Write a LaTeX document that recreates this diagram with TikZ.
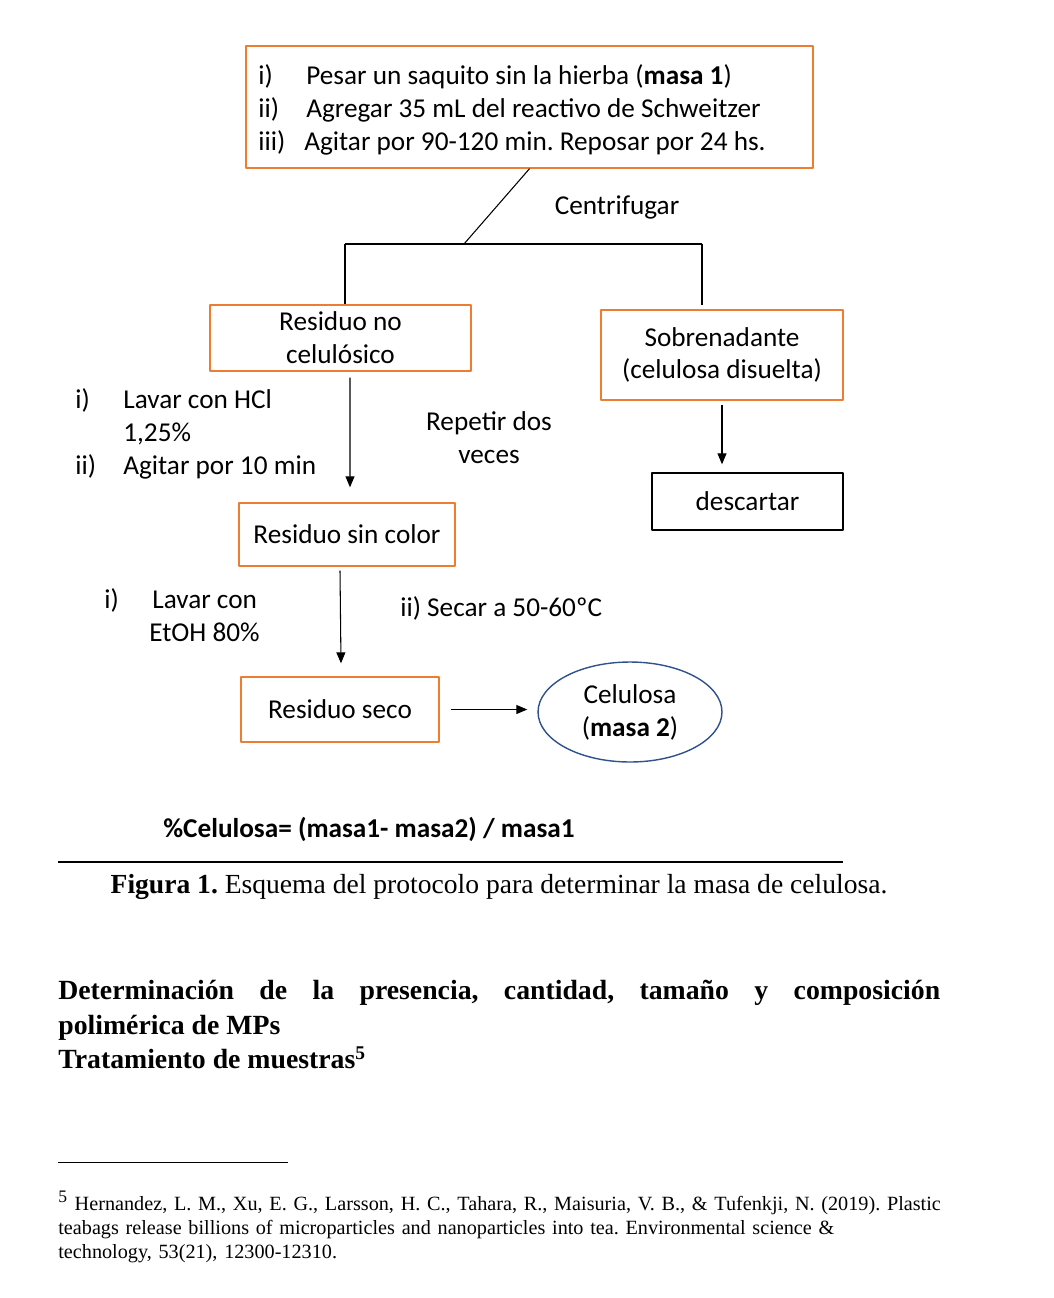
\documentclass[tikz,border=0pt]{standalone}
\usepackage{fontspec}
\setmainfont{Liberation Serif}
\newfontfamily\calibri{Carlito}
\usetikzlibrary{arrows.meta,positioning,calc,shapes.geometric}
\definecolor{naranja}{RGB}{237,125,49}
\definecolor{azul}{RGB}{47,82,143}
\frenchspacing

\begin{document}
\begin{tikzpicture}[x=0.02cm, y=-0.02cm, line join=round,
  caja/.style={draw=naranja, line width=0.8pt, inner sep=0pt, align=center, font=\calibri\fontsize{15.5}{18.7}\selectfont},
  txt/.style={inner sep=0pt, anchor=mid west, yshift=-0.11cm, font=\calibri\fontsize{15.5}{18.7}\selectfont},
  linea/.style={line width=0.6pt},
  flecha/.style={line width=0.6pt, -{Triangle[length=2.2mm, width=1.8mm]}}]
\useasboundingbox (0,0) rectangle (1054,1298);
\node[caja, minimum width=11.34cm, minimum height=2.44cm]                 (pasos)   at (529.5,107) {};
\node[caja, minimum width=5.22cm,  minimum height=1.32cm]                 (resno)   at (340.5,338) {Residuo no\\celulósico};
\node[caja, minimum width=4.84cm,  minimum height=1.80cm]                 (sobre)   at (722,355)   {Sobrenadante\\(celulosa disuelta)};
\node[caja, draw=black, minimum width=3.82cm, minimum height=1.14cm]      (desc)    at (747.5,501.5) {descartar};
\node[caja, minimum width=4.32cm,  minimum height=1.26cm]                 (ressin)  at (347,534.5) {Residuo sin color};
\node[caja, minimum width=3.96cm,  minimum height=1.30cm]                 (resseco) at (340,709.5) {Residuo seco};
\node[caja, ellipse, draw=azul, minimum width=3.68cm, minimum height=2cm] (celul)   at (630,712)   {Celulosa\\(\textbf{masa 2})};
\node[txt] (p1)  at (258,75)  {i)};
\node[txt] (p1t) at (306,75)  {Pesar un saquito sin la hierba (\textbf{masa 1})};
\node[txt] (p2)  at (258,108) {ii)};
\node[txt] (p2t) at (306,108) {Agregar 35 mL del reactivo de Schweitzer};
\node[txt] (p3)  at (258,141) {iii)};
\node[txt] (p3t) at (304,141) {Agitar por 90-120 min. Reposar por 24 hs.};
\node[txt, anchor=mid] (centr) at (617,205) {Centrifugar};
\node[txt] (l1)  at (75,399)  {i)};
\node[txt] (l1t) at (123,399) {Lavar con HCl};
\node[txt] (l1b) at (123,432) {1,25\%};
\node[txt] (l2)  at (75,465)  {ii)};
\node[txt] (l2t) at (123,465) {Agitar por 10 min};
\node[txt, anchor=center, yshift=0cm, align=center] (rep) at (489,432) {Repetir dos\\veces};
\node[txt] (e1)  at (104,599) {i)};
\node[txt] (e1t) at (152,599) {Lavar con};
\node[txt] (e1b) at (149,632) {EtOH 80\%};
\node[txt] (sec) at (400,607) {ii) Secar a 50-60ºC};
\node[txt, font=\calibri\bfseries\fontsize{15.5}{18.7}\selectfont] (form) at (163,828) {\%Celulosa= (masa1- masa2) / masa1};
\coordinate (split) at (464,244);
\coordinate (hl)    at (345,244);
\coordinate (hr)    at (702,244);
\draw[linea] (pasos.south) -- (split);
\draw[linea] (hl) -- (hr);
\draw[linea] (hl) -- (hl |- resno.north);
\draw[linea, shorten >=0.08cm] (hr) -- (hr |- sobre.north);
\draw[flecha] ($(resno.south)+(9.5,6)$) -- ($(ressin.north)+(3,-15)$);
\draw[flecha] ($(sobre.south)+(0,4)$) -- ($(desc.north)+(-25.5,-8)$);
\draw[flecha] ($(ressin.south)+(-7,4)$) -- ($(resseco.north)+(1,-13)$);
\draw[flecha] ($(resseco.east)+(11,0)$) -- ($(celul.west |- resseco.east)+(-10,0)$);
\coordinate (r1) at (58,862);
\coordinate (r2) at (843,862);
\draw[linea] (r1) -- (r2);
\node[inner sep=0pt, anchor=mid, font=\fontsize{15.7}{18}\selectfont] (cap) at (499,889) {\textbf{Figura 1.} Esquema del protocolo para determinar la masa de celulosa.};
\node[inner sep=0pt, anchor=north west, text width=17.64cm, align=justify, font=\bfseries\fontsize{15.8}{19.6}\selectfont] (tit) at (58,980)
  {Determinación de la presencia, cantidad, tamaño y composición\linebreak polimérica de MPs\\Tratamiento de muestras\textsuperscript{5}};
\coordinate (f1) at (58,1162);
\coordinate (f2) at (288,1162);
\draw[line width=0.4pt] (f1) -- (f2);
\node[inner sep=0pt, anchor=north west, text width=17.8cm, align=left, font=\fontsize{11.5}{13.6}\selectfont] (nota) at (58,1191)
  {\textsuperscript{\normalsize 5} Hernandez, L. M., Xu, E. G., Larsson, H. C., Tahara, R., Maisuria, V. B., \& Tufenkji, N. (2019). Plastic\\teabags release billions of microparticles and nanoparticles into tea. Environmental science \&\\technology, 53(21), 12300-12310.};
\end{tikzpicture}
\end{document}
